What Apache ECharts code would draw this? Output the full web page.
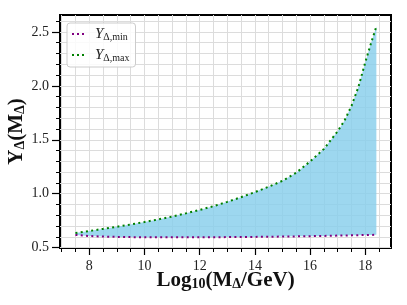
<!DOCTYPE html>
<html><head><meta charset="utf-8">
<script src="https://cdn.jsdelivr.net/npm/echarts@6/dist/echarts.min.js"></script>
<style>html,body{margin:0;padding:0;background:#fff}#c{width:407px;height:305px}</style>
</head><body><div id="c"></div>
<script>
// ---- data ----
const xValues = [7.5, 8, 8.5, 9, 9.5, 10, 10.5, 11, 11.5, 12, 12.5, 13, 13.5, 14, 14.5, 15, 15.5, 16, 16.5, 17, 17.25, 17.5, 17.75, 18, 18.2, 18.4];
const yMin = [0.618, 0.608, 0.603, 0.600, 0.598, 0.597, 0.596, 0.596, 0.596, 0.596, 0.597, 0.598, 0.599, 0.600, 0.601, 0.603, 0.605, 0.607, 0.609, 0.612, 0.613, 0.615, 0.616, 0.617, 0.618, 0.620];
const yMax = [0.636, 0.655, 0.674, 0.694, 0.715, 0.738, 0.762, 0.788, 0.818, 0.850, 0.885, 0.925, 0.968, 1.015, 1.065, 1.120, 1.195, 1.300, 1.415, 1.580, 1.680, 1.815, 1.990, 2.220, 2.390, 2.550];
const xMajorTicks = [8, 10, 12, 14, 16, 18];
const xMinorTicks = [7, 7.5, 8, 8.5, 9, 9.5, 10, 10.5, 11, 11.5, 12, 12.5, 13, 13.5, 14, 14.5, 15, 15.5, 16, 16.5, 17, 17.5, 18, 18.5];
const yMajorTicks = [0.5, 1.0, 1.5, 2.0, 2.5];
const yMinorTicks = [0.5, 0.6, 0.7, 0.8, 0.9, 1.0, 1.1, 1.2, 1.3, 1.4, 1.5, 1.6, 1.7, 1.8, 1.9, 2.0, 2.1, 2.2, 2.3, 2.4, 2.5, 2.6];
const seriesNames = ['ymin', 'ymax'];

const SERIF = "'Liberation Serif', 'DejaVu Serif', serif";
const pairs = (ys) => xValues.map((x, i) => [x, ys[i]]);

const chart = echarts.init(document.getElementById('c'), null, {renderer: 'canvas'});
const X_RANGE = {min: 6.94, max: 18.93};
const Y_RANGE = {min: 0.497, max: 2.657};

const titleRich = {
  b: {fontFamily: SERIF, fontWeight: 'bold', fontSize: 21, color: '#111', lineHeight: 24, verticalAlign: 'bottom'},
  bs: {fontFamily: SERIF, fontWeight: 'bold', fontSize: 14, color: '#111', lineHeight: 19, verticalAlign: 'bottom'}
};
const DOTS = 'path://M0,0h2v2h-2z M5,0h2v2h-2z M10,0h2v2h-2z';

chart.setOption({
  animation: false,
  backgroundColor: '#fff',
  grid: {left: 60, right: 16, top: 15, bottom: 57, show: true, borderColor: '#000', borderWidth: 2, backgroundColor: 'transparent',
    containLabel: false, outerBoundsMode: 'none'},
  legend: {
    data: seriesNames.map(n => ({name: n, icon: DOTS})),
    orient: 'vertical', left: 67, top: 23,
    padding: [4, 6, 4, 5], itemGap: 6, itemWidth: 12, itemHeight: 2,
    backgroundColor: 'rgba(255,255,255,0.85)', borderColor: '#cccccc', borderWidth: 1, borderRadius: 3,
    formatter: (n) => n === 'ymin' ? '{i|Y}{s|Δ,min}' : '{i|Y}{s|Δ,max}',
    textStyle: {
      rich: {
        i: {fontFamily: SERIF, fontStyle: 'italic', fontSize: 15, color: '#222', lineHeight: 16, padding: [0, 0, 0, 6], verticalAlign: 'bottom'},
        s: {fontFamily: SERIF, fontSize: 10, color: '#222', lineHeight: 12, verticalAlign: 'bottom'}
      }
    }
  },
  xAxis: [{
    type: 'value', gridIndex: 0, position: 'bottom', ...X_RANGE,
    axisLine: {show: false},
    axisTick: {show: true, customValues: xMinorTicks, length: 4, lineStyle: {color: '#000', width: 1}},
    axisLabel: {customValues: xMajorTicks, margin: 11, fontFamily: SERIF, fontSize: 14, color: '#222'},
    splitLine: {show: true, lineStyle: {color: '#dcdcdc', width: 1}},
    name: '{b|Log}{bs|10}{b|(M}{bs|Δ}{b|/GeV)}', nameLocation: 'middle', nameGap: 19, nameMoveOverlap: false,
    nameTextStyle: {rich: titleRich}
  }, {
    type: 'value', gridIndex: 0, position: 'bottom', ...X_RANGE,
    axisLine: {show: false},
    axisTick: {show: true, customValues: xMajorTicks, length: 7, lineStyle: {color: '#000', width: 1.2}},
    axisLabel: {show: false}, splitLine: {show: false}
  }],
  yAxis: [{
    type: 'value', gridIndex: 0, position: 'left', ...Y_RANGE,
    axisLine: {show: false},
    axisTick: {show: true, customValues: yMinorTicks, length: 4, lineStyle: {color: '#000', width: 1}},
    axisLabel: {customValues: yMajorTicks, margin: 11, fontFamily: SERIF, fontSize: 14, color: '#222', formatter: (v) => v.toFixed(1)},
    splitLine: {show: true, lineStyle: {color: '#dcdcdc', width: 1}},
    name: '{b|Y}{bs|Δ}{b|(M}{bs|Δ}{b|)}', nameLocation: 'middle', nameGap: 33, nameRotate: 90, nameMoveOverlap: false,
    nameTextStyle: {rich: titleRich}
  }, {
    type: 'value', gridIndex: 0, position: 'left', ...Y_RANGE,
    axisLine: {show: false},
    axisTick: {show: true, customValues: yMajorTicks, length: 8, lineStyle: {color: '#000', width: 1.2}},
    axisLabel: {show: false}, splitLine: {show: false}
  }],
  series: [
    {name: 'band', type: 'custom', data: pairs(yMax), silent: true, z: 1, clip: true,
      renderItem: (params, api) => {
        if (params.dataIndex !== 0) return null;
        const pts = [];
        for (let i = 0; i < xValues.length; i++) pts.push(api.coord([xValues[i], yMax[i]]));
        for (let i = xValues.length - 1; i >= 0; i--) pts.push(api.coord([xValues[i], yMin[i]]));
        return {type: 'polygon', shape: {points: pts}, style: {fill: 'rgba(135,206,235,0.82)', stroke: null}};
      }},
    {name: 'ymin', type: 'line', data: pairs(yMin), symbol: 'none', color: '#800080',
      lineStyle: {color: '#800080', width: 2, type: [2, 3.3], cap: 'butt'}, z: 3},
    {name: 'ymax', type: 'line', data: pairs(yMax), symbol: 'none', color: '#008000',
      lineStyle: {color: '#008000', width: 2, type: [2, 3.3], cap: 'butt'}, z: 3}
  ]
});
</script></body></html>
